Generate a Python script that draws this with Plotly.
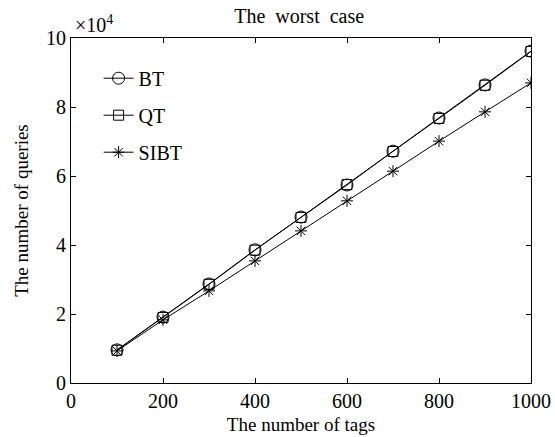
import plotly.graph_objects as go

tags = [100, 200, 300, 400, 500, 600, 700, 800, 900, 1000]
bt = [9600, 19100, 28700, 38600, 48100, 57400, 67200, 76800, 86400, 96200]
qt = [9500, 19000, 28600, 38500, 48000, 57500, 67100, 76700, 86300, 96100]
sibt = [9300, 18300, 26700, 35400, 44100, 52800, 61400, 70100, 78600, 87000]

x_ticks = [0, 200, 400, 600, 800, 1000]
y_tickvals = [0, 20000, 40000, 60000, 80000, 100000]
y_ticktext = ["0", "2", "4", "6", "8", "10"]

FONT = "Liberation Serif"

fig = go.Figure()
series = [("BT", bt, "circle-open", 12), ("QT", qt, "square-open", 10), ("SIBT", sibt, "asterisk-open", 10)]
for name, vals, sym, sz in series:
    fig.add_trace(go.Scatter(
        x=tags, y=vals, name=name, legendgroup=name, mode="lines+markers",
        line=dict(color="black", width=1),
        marker=dict(symbol=sym, size=sz, color="black", line=dict(color="black", width=1)),
    ))

axis_common = dict(
    showline=True, linecolor="black", linewidth=1, mirror="allticks",
    ticks="inside", ticklen=5, tickcolor="black", showgrid=False, zeroline=False,
    automargin=False,
    tickfont=dict(family=FONT, size=20, color="black"),
)

fig.update_layout(
    width=555, height=437,
    margin=dict(l=71, r=24, t=38, b=54),
    paper_bgcolor="white", plot_bgcolor="white",
    font=dict(family=FONT, size=20, color="black"),
    title=dict(text="The&nbsp; worst&nbsp; case", x=0.496, xref="paper", xanchor="center",
               y=0.963, yanchor="middle",
               font=dict(family=FONT, size=20, color="black")),
    xaxis=dict(range=[0, 1000], tickvals=x_ticks, title=dict(text="The number of tags", standoff=6,
               font=dict(family=FONT, size=19)), **axis_common),
    yaxis=dict(range=[0, 100000], tickvals=y_tickvals, ticktext=y_ticktext,
               title=dict(text="The number of queries", standoff=12, font=dict(family=FONT, size=19)),
               **axis_common),
    legend=dict(x=0.06, y=0.94, xanchor="left", yanchor="top", bgcolor="rgba(0,0,0,0)",
                font=dict(family=FONT, size=20), tracegroupgap=8, itemwidth=30),
    showlegend=True,
)

fig.add_annotation(text="×10<sup>4</sup>", xref="paper", yref="paper", x=0.004, y=1.0,
                   xanchor="left", yanchor="bottom", showarrow=False,
                   font=dict(family=FONT, size=20, color="black"))

fig.write_html("out.html")
